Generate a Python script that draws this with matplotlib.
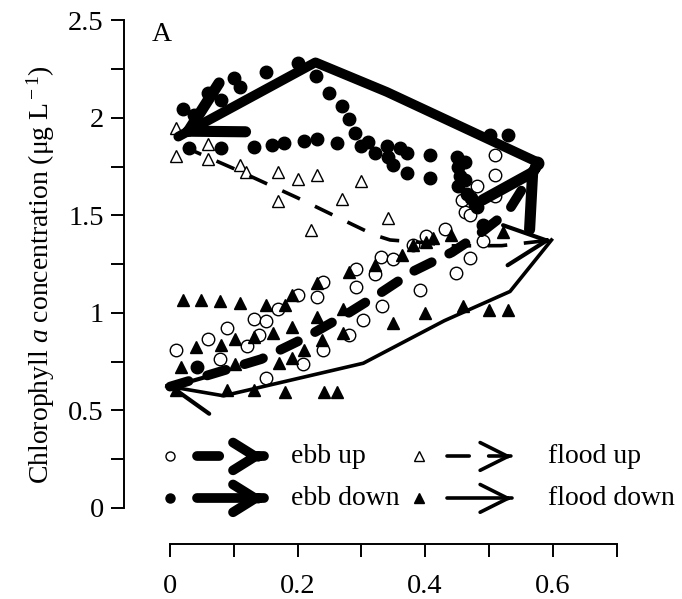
import matplotlib
matplotlib.use("Agg")
import matplotlib.pyplot as plt
from matplotlib.ticker import FixedLocator

plt.rcParams["font.family"] = ["Liberation Serif", "DejaVu Serif"]
plt.rcParams["mathtext.fontset"] = "custom"
plt.rcParams["mathtext.rm"] = "Liberation Serif"
plt.rcParams["mathtext.it"] = "Liberation Serif:italic"
plt.rcParams["lines.scale_dashes"] = False

# ------------------------------------------------------------ point data
ebb_up_x = [0.010, 0.060, 0.078, 0.090, 0.120, 0.131, 0.140, 0.150, 0.170,
            0.150, 0.201, 0.209, 0.230, 0.240, 0.240, 0.281, 0.291, 0.292,
            0.302, 0.321, 0.331, 0.333, 0.350, 0.381, 0.392, 0.402, 0.431,
            0.449, 0.462, 0.471, 0.470, 0.458, 0.481, 0.491, 0.509, 0.509,
            0.509]
ebb_up_y = [0.812, 0.864, 0.766, 0.922, 0.830, 0.970, 0.888, 0.960, 1.019,
            0.664, 1.092, 0.739, 1.082, 1.157, 0.812, 0.886, 1.135, 1.223,
            0.962, 1.202, 1.289, 1.037, 1.277, 1.350, 1.118, 1.395, 1.432,
            1.204, 1.518, 1.500, 1.281, 1.578, 1.650, 1.368, 1.810, 1.705,
            1.601]

ebb_down_x = [0.020, 0.037, 0.060, 0.080, 0.101, 0.110, 0.150, 0.201, 0.229,
              0.250, 0.269, 0.280, 0.290, 0.300, 0.311, 0.321, 0.340, 0.342,
              0.350, 0.361, 0.371, 0.371, 0.408, 0.408, 0.450, 0.462, 0.452,
              0.455, 0.452, 0.462, 0.465, 0.472, 0.478, 0.481, 0.491, 0.502,
              0.530, 0.576, 0.030, 0.080, 0.131, 0.160, 0.179, 0.210, 0.230,
              0.261, 0.042]
ebb_down_y = [2.045, 2.016, 2.127, 2.092, 2.204, 2.161, 2.233, 2.284, 2.215,
              2.130, 2.062, 1.993, 1.925, 1.856, 1.879, 1.819, 1.856, 1.802,
              1.759, 1.845, 1.822, 1.720, 1.810, 1.693, 1.798, 1.776, 1.750,
              1.700, 1.650, 1.680, 1.610, 1.590, 1.560, 1.545, 1.451, 1.913,
              1.913, 1.770, 1.845, 1.845, 1.853, 1.862, 1.870, 1.884, 1.891,
              1.870, 0.725]

flood_up_x = [0.009, 0.009, 0.060, 0.060, 0.110, 0.119, 0.170, 0.170, 0.200,
              0.230, 0.221, 0.270, 0.300, 0.341]
flood_up_y = [1.947, 1.805, 1.867, 1.788, 1.759, 1.725, 1.725, 1.576, 1.686,
              1.708, 1.426, 1.585, 1.674, 1.486]

flood_down_x = [0.010, 0.020, 0.049, 0.078, 0.109, 0.150, 0.180, 0.191, 0.230,
                0.280, 0.321, 0.363, 0.381, 0.402, 0.413, 0.441, 0.522, 0.271,
                0.231, 0.191, 0.161, 0.132, 0.102, 0.080, 0.041, 0.018, 0.102,
                0.171, 0.191, 0.239, 0.271, 0.350, 0.400, 0.460, 0.500, 0.530,
                0.089, 0.131, 0.180, 0.242, 0.261, 0.210]
flood_down_y = [0.605, 1.067, 1.067, 1.062, 1.053, 1.041, 1.041, 1.092, 1.155,
                1.212, 1.246, 1.297, 1.349, 1.366, 1.383, 1.400, 1.417, 1.019,
                0.978, 0.927, 0.899, 0.879, 0.865, 0.836, 0.824, 0.725, 0.738,
                0.742, 0.768, 0.862, 0.899, 0.950, 1.000, 1.033, 1.015, 1.015,
                0.605, 0.605, 0.597, 0.597, 0.597, 0.812]

# ------------------------------------------------------------ trend arrows
ebb_up_lx = [0.000, 0.054, 0.143, 0.211, 0.279, 0.327, 0.381, 0.442, 0.483,
             0.530, 0.578]
ebb_up_ly = [0.622, 0.675, 0.763, 0.871, 0.998, 1.096, 1.213, 1.311, 1.400,
             1.520, 1.770]
ebb_down_lx = [0.578, 0.340, 0.228, 0.013]
ebb_down_ly = [1.770, 2.133, 2.285, 1.904]
flood_up_lx = [0.021, 0.100, 0.200, 0.285, 0.320, 0.345, 0.400, 0.440, 0.520,
               0.598]
flood_up_ly = [1.853, 1.740, 1.590, 1.455, 1.400, 1.374, 1.360, 1.344, 1.345,
               1.374]
flood_down_lx = [0.598, 0.533, 0.430, 0.303, 0.084, -0.005]
flood_down_ly = [1.374, 1.110, 0.960, 0.742, 0.575, 0.625]

y_ticks = [0, 0.5, 1, 1.5, 2, 2.5]
y_ticklabels = ["0", "0.5", "1", "1.5", "2", "2.5"]
x_ticks = [0, 0.2, 0.4, 0.6]
x_ticklabels = ["0", "0.2", "0.4", "0.6"]

fig = plt.figure(figsize=(6.82, 5.99), dpi=100)
ax = fig.add_axes([124 / 682, 1 - 544 / 599, 526 / 682, 539 / 599])
ax.set_xlim(-0.0721, 0.7524)
ax.set_ylim(-0.185, 2.579)


def head(xs, ys, lw, hl, hw):
    # open chevron on the last segment of a path
    bx = xs[-2] + 0.9 * (xs[-1] - xs[-2])
    by = ys[-2] + 0.9 * (ys[-1] - ys[-2])
    ax.annotate("", xy=(xs[-1], ys[-1]), xytext=(bx, by),
                arrowprops=dict(arrowstyle=f"->,head_length={hl},head_width={hw}",
                                lw=lw, color="k", shrinkA=0, shrinkB=0,
                                mutation_scale=10, capstyle="round",
                                joinstyle="round"), zorder=5)


mk = dict(ls="none", ms=9, mew=1.0, color="k", zorder=3)
ax.plot(ebb_up_x, ebb_up_y, "o", mfc="white", **mk)
ax.plot(ebb_down_x, ebb_down_y, "o", mfc="k", **mk)
mk["ms"] = 8.5
ax.plot(flood_up_x, flood_up_y, "^", mfc="white", **mk)
ax.plot(flood_down_x, flood_down_y, "^", mfc="k", **mk)

EBB_LW, FLOOD_LW = 7.0, 2.6
ax.plot(ebb_up_lx, ebb_up_ly, color="k", lw=EBB_LW, dashes=(14, 14),
        dash_capstyle="round", solid_capstyle="round", zorder=4)
head(ebb_up_lx, ebb_up_ly, 8.0, 3.6, 2.0)
ax.plot(ebb_down_lx, ebb_down_ly, color="k", lw=EBB_LW, solid_capstyle="round",
        solid_joinstyle="round", zorder=4)
head(ebb_down_lx, ebb_down_ly, 8.0, 3.6, 2.0)
ax.plot(flood_up_lx, flood_up_ly, color="k", lw=FLOOD_LW, dashes=(14, 12),
        zorder=4)
head(flood_up_lx, flood_up_ly, 3.0, 3.0, 1.45)
ax.plot(flood_down_lx, flood_down_ly, color="k", lw=FLOOD_LW,
        solid_joinstyle="round", zorder=4)
head(flood_down_lx, flood_down_ly, 3.0, 3.0, 1.45)

# ------------------------------------------------------------ legend (drawn)
rows = [0.264, 0.049]
entries = [
    ("o", "white", EBB_LW, (16, 26), 1.6, 1.0, "ebb up", 0.0, 0.042, 0.148, 0.19),
    ("o", "k", EBB_LW, None, 1.6, 1.0, "ebb down", 0.0, 0.042, 0.148, 0.19),
    ("^", "white", FLOOD_LW, (16, 14), 2.0, 1.0, "flood up", 0.391, 0.434, 0.536, 0.592),
    ("^", "k", FLOOD_LW, None, 2.0, 1.0, "flood down", 0.391, 0.434, 0.536, 0.592),
]
for i, (m, fc, lw, ds, hl, hw, lab, xm, x0, x1, xt) in enumerate(entries):
    yr = rows[i % 2]
    ax.plot([xm], [yr], m, ms=6.5, mfc=fc, mec="k", mew=1.0)
    kw = dict(color="k", lw=lw, solid_capstyle="round", dash_capstyle="round")
    if ds is not None:
        kw["dashes"] = ds
    ax.plot([x0, x1], [yr, yr], **kw)
    head([x0, x1], [yr, yr], lw, hl, hw)
    ax.text(xt, yr, lab, fontsize=20, va="center", ha="left")

ax.text(-0.0125, 2.43, "A", fontsize=20, va="center", ha="center")

# ------------------------------------------------------------ axes
for s in ("top", "right"):
    ax.spines[s].set_visible(False)
ax.spines["left"].set_bounds(0, 2.5)
ax.spines["bottom"].set_bounds(0, 0.7)
for s in ("left", "bottom"):
    ax.spines[s].set_linewidth(1.4)
ax.set_yticks(y_ticks)
ax.set_yticklabels(y_ticklabels)
ax.yaxis.set_minor_locator(FixedLocator([0.25, 0.75, 1.25, 1.75, 2.25]))
ax.set_xticks(x_ticks)
ax.set_xticklabels(x_ticklabels)
ax.xaxis.set_minor_locator(FixedLocator([0.1, 0.3, 0.5, 0.7]))
ax.tick_params(axis="both", which="both", direction="out", length=9.5,
               width=1.4, labelsize=20.5)
ax.tick_params(axis="y", pad=5)
ax.tick_params(axis="x", pad=12)
ax.set_ylabel(r"Chlorophyll $\it{a}$ concentration (μg L$^{\rm -1}$)",
              fontsize=20, labelpad=8)

fig.savefig("out.png", dpi=100)
